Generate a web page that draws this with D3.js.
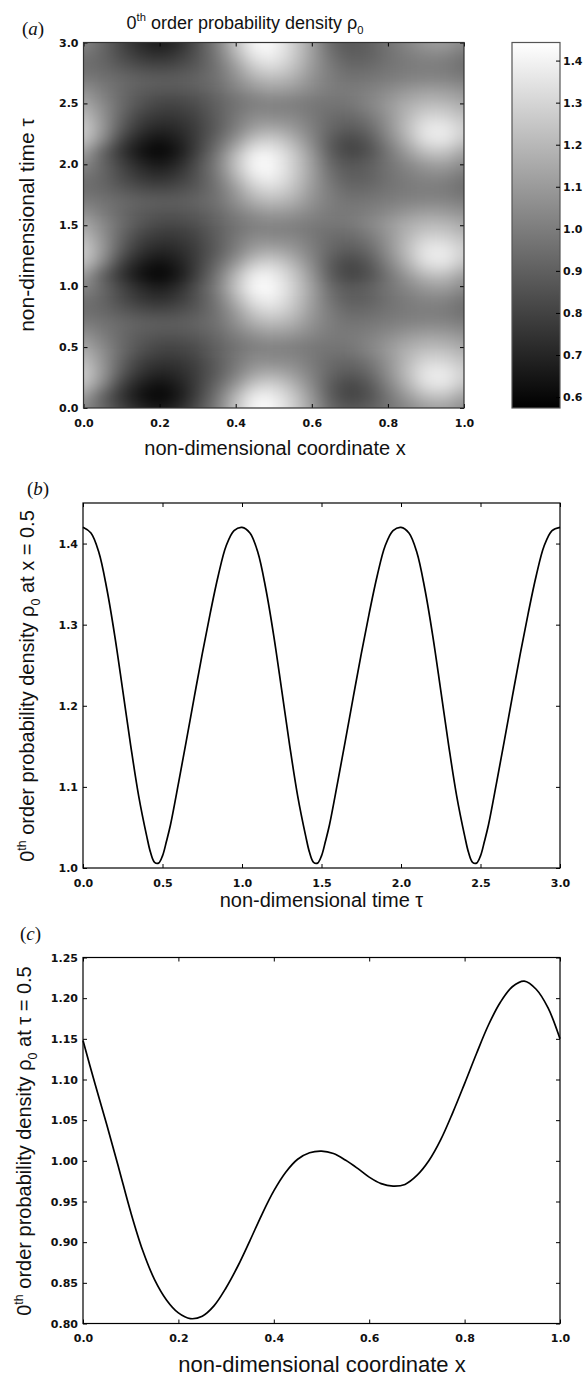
<!DOCTYPE html>
<html><head><meta charset="utf-8">
<script src="https://cdn.jsdelivr.net/npm/d3@7"></script>
<style>
body{margin:0;background:#fff;}
.lab{font-family:"Liberation Sans",Arial,sans-serif;fill:#111;}
.plab{font-family:"Liberation Serif","Times New Roman",serif;fill:#111;}
</style></head><body>
<svg id="fig" width="588" height="1380"></svg>
<script>
// ---------------- DATA ----------------
// (a) heat map grid: x columns, tau rows, rho values
const heatX = [0,0.05,0.1,0.15,0.2,0.25,0.3,0.35,0.4,0.45,0.5,0.55,0.6,0.65,0.7,0.75,0.8,0.85,0.9,0.95,1.0];
const heatTau = [0,0.1,0.2,0.3,0.4,0.5,0.6,0.7,0.8,0.9,1.0,1.1,1.2,1.3,1.4,1.5,1.6,1.7,1.8,1.9,2.0,2.1,2.2,2.3,2.4,2.5,2.6,2.7,2.8,2.9,3.0];
const heatRho = [
[1.04,0.93,0.81,0.71,0.66,0.72,0.85,1.00,1.24,1.43,1.42,1.29,1.12,0.93,0.87,0.90,0.97,1.03,1.10,1.12,1.04],
[1.12,0.90,0.74,0.63,0.58,0.65,0.80,0.97,1.20,1.40,1.39,1.27,1.09,0.88,0.80,0.84,0.97,1.10,1.22,1.24,1.12],
[1.25,1.05,0.80,0.68,0.63,0.68,0.79,0.92,1.08,1.26,1.29,1.19,1.04,0.88,0.81,0.87,1.02,1.18,1.35,1.37,1.25],
[1.28,1.10,0.88,0.75,0.70,0.72,0.79,0.88,1.00,1.12,1.15,1.10,1.01,0.92,0.88,0.93,1.06,1.22,1.37,1.38,1.28],
[1.22,1.08,0.91,0.80,0.76,0.76,0.81,0.89,0.98,1.05,1.04,1.04,0.99,0.94,0.93,0.98,1.08,1.20,1.30,1.30,1.22],
[1.15,1.05,0.94,0.86,0.81,0.81,0.84,0.90,0.96,1.00,1.01,1.00,0.98,0.97,0.98,1.03,1.10,1.17,1.21,1.21,1.15],
[1.08,1.00,0.93,0.88,0.86,0.86,0.88,0.93,1.00,1.06,1.10,1.08,1.03,0.99,0.99,1.01,1.05,1.10,1.13,1.12,1.08],
[1.00,0.97,0.94,0.91,0.90,0.90,0.92,0.96,1.06,1.17,1.21,1.17,1.07,1.00,0.97,0.98,1.00,1.02,1.03,1.03,1.00],
[0.95,0.93,0.88,0.84,0.82,0.84,0.88,0.96,1.10,1.27,1.32,1.24,1.10,0.99,0.93,0.94,0.97,0.99,1.00,0.99,0.95],
[0.97,0.92,0.83,0.76,0.73,0.77,0.86,0.98,1.18,1.37,1.40,1.28,1.12,0.96,0.89,0.90,0.96,1.00,1.03,1.03,0.97],
[1.04,0.93,0.81,0.71,0.66,0.72,0.85,1.00,1.24,1.43,1.42,1.29,1.12,0.93,0.87,0.90,0.97,1.03,1.10,1.12,1.04],
[1.12,0.90,0.74,0.63,0.58,0.65,0.80,0.97,1.20,1.40,1.39,1.27,1.09,0.88,0.80,0.84,0.97,1.10,1.22,1.24,1.12],
[1.25,1.05,0.80,0.68,0.63,0.68,0.79,0.92,1.08,1.26,1.29,1.19,1.04,0.88,0.81,0.87,1.02,1.18,1.35,1.37,1.25],
[1.28,1.10,0.88,0.75,0.70,0.72,0.79,0.88,1.00,1.12,1.15,1.10,1.01,0.92,0.88,0.93,1.06,1.22,1.37,1.38,1.28],
[1.22,1.08,0.91,0.80,0.76,0.76,0.81,0.89,0.98,1.05,1.04,1.04,0.99,0.94,0.93,0.98,1.08,1.20,1.30,1.30,1.22],
[1.15,1.05,0.94,0.86,0.81,0.81,0.84,0.90,0.96,1.00,1.01,1.00,0.98,0.97,0.98,1.03,1.10,1.17,1.21,1.21,1.15],
[1.08,1.00,0.93,0.88,0.86,0.86,0.88,0.93,1.00,1.06,1.10,1.08,1.03,0.99,0.99,1.01,1.05,1.10,1.13,1.12,1.08],
[1.00,0.97,0.94,0.91,0.90,0.90,0.92,0.96,1.06,1.17,1.21,1.17,1.07,1.00,0.97,0.98,1.00,1.02,1.03,1.03,1.00],
[0.95,0.93,0.88,0.84,0.82,0.84,0.88,0.96,1.10,1.27,1.32,1.24,1.10,0.99,0.93,0.94,0.97,0.99,1.00,0.99,0.95],
[0.97,0.92,0.83,0.76,0.73,0.77,0.86,0.98,1.18,1.37,1.40,1.28,1.12,0.96,0.89,0.90,0.96,1.00,1.03,1.03,0.97],
[1.04,0.93,0.81,0.71,0.66,0.72,0.85,1.00,1.24,1.43,1.42,1.29,1.12,0.93,0.87,0.90,0.97,1.03,1.10,1.12,1.04],
[1.12,0.90,0.74,0.63,0.58,0.65,0.80,0.97,1.20,1.40,1.39,1.27,1.09,0.88,0.80,0.84,0.97,1.10,1.22,1.24,1.12],
[1.25,1.05,0.80,0.68,0.63,0.68,0.79,0.92,1.08,1.26,1.29,1.19,1.04,0.88,0.81,0.87,1.02,1.18,1.35,1.37,1.25],
[1.28,1.10,0.88,0.75,0.70,0.72,0.79,0.88,1.00,1.12,1.15,1.10,1.01,0.92,0.88,0.93,1.06,1.22,1.37,1.38,1.28],
[1.22,1.08,0.91,0.80,0.76,0.76,0.81,0.89,0.98,1.05,1.04,1.04,0.99,0.94,0.93,0.98,1.08,1.20,1.30,1.30,1.22],
[1.15,1.05,0.94,0.86,0.81,0.81,0.84,0.90,0.96,1.00,1.01,1.00,0.98,0.97,0.98,1.03,1.10,1.17,1.21,1.21,1.15],
[1.08,1.00,0.93,0.88,0.86,0.86,0.88,0.93,1.00,1.06,1.10,1.08,1.03,0.99,0.99,1.01,1.05,1.10,1.13,1.12,1.08],
[1.00,0.97,0.94,0.91,0.90,0.90,0.92,0.96,1.06,1.17,1.21,1.17,1.07,1.00,0.97,0.98,1.00,1.02,1.03,1.03,1.00],
[0.95,0.93,0.88,0.84,0.82,0.84,0.88,0.96,1.10,1.27,1.32,1.24,1.10,0.99,0.93,0.94,0.97,0.99,1.00,0.99,0.95],
[0.97,0.92,0.83,0.76,0.73,0.77,0.86,0.98,1.18,1.37,1.40,1.28,1.12,0.96,0.89,0.90,0.96,1.00,1.03,1.03,0.97],
[1.04,0.93,0.81,0.71,0.66,0.72,0.85,1.00,1.24,1.43,1.42,1.29,1.12,0.93,0.87,0.90,0.97,1.03,1.10,1.12,1.04]
];
const colorbarRange = [0.574, 1.443];
const colorbarTicks = [0.6,0.7,0.8,0.9,1.0,1.1,1.2,1.3,1.4];
const heatXTicks = [0.0,0.2,0.4,0.6,0.8,1.0];
const heatYTicks = [0.0,0.5,1.0,1.5,2.0,2.5,3.0];

// (b) rho0 at x = 0.5 versus tau
const tauB = [0,0.05,0.1,0.15,0.2,0.25,0.3,0.35,0.4,0.425,0.45,0.475,0.5,0.525,0.55,0.6,0.65,0.7,0.75,0.8,0.85,0.9,0.95,
  1.0,1.05,1.1,1.15,1.2,1.25,1.3,1.35,1.4,1.425,1.45,1.475,1.5,1.525,1.55,1.6,1.65,1.7,1.75,1.8,1.85,1.9,1.95,
  2.0,2.05,2.1,2.15,2.2,2.25,2.3,2.35,2.4,2.425,2.45,2.475,2.5,2.525,2.55,2.6,2.65,2.7,2.75,2.8,2.85,2.9,2.95,3.0];
const rhoB = [1.420,1.413,1.389,1.344,1.286,1.219,1.151,1.089,1.040,1.019,1.007,1.006,1.015,1.033,1.053,1.104,1.157,1.211,1.264,1.314,1.360,1.397,1.416,
  1.420,1.413,1.389,1.344,1.286,1.219,1.151,1.089,1.040,1.019,1.007,1.006,1.015,1.033,1.053,1.104,1.157,1.211,1.264,1.314,1.360,1.397,1.416,
  1.420,1.413,1.389,1.344,1.286,1.219,1.151,1.089,1.040,1.019,1.007,1.006,1.015,1.033,1.053,1.104,1.157,1.211,1.264,1.314,1.360,1.397,1.416,1.420];
const bXTicks = [0.0,0.5,1.0,1.5,2.0,2.5,3.0];
const bYTicks = [1.0,1.1,1.2,1.3,1.4];
const bYDomain = [1.0,1.45];

// (c) rho0 at tau = 0.5 versus x
const xC = [0,0.025,0.05,0.075,0.1,0.125,0.15,0.175,0.2,0.225,0.25,0.275,0.3,0.325,0.35,0.375,0.4,0.425,0.45,0.475,
  0.5,0.525,0.55,0.575,0.6,0.625,0.65,0.675,0.7,0.725,0.75,0.775,0.8,0.825,0.85,0.875,0.9,0.925,0.95,0.975,1.0];
const rhoC = [1.148,1.095,1.044,0.991,0.937,0.890,0.854,0.829,0.813,0.806,0.809,0.822,0.844,0.871,0.902,0.934,0.963,0.986,1.002,1.010,
  1.012,1.009,1.001,0.991,0.980,0.972,0.969,0.971,0.982,1.000,1.026,1.059,1.095,1.132,1.167,1.195,1.214,1.221,1.211,1.188,1.150];
const cXTicks = [0.0,0.2,0.4,0.6,0.8,1.0];
const cYTicks = [0.80,0.85,0.90,0.95,1.00,1.05,1.10,1.15,1.20,1.25];
const cYDomain = [0.80,1.25];

// ---------------- DRAWING ----------------
const svg = d3.select("#fig");
const defs = svg.append("defs");

function richText(x, y, rot, size, parts, anchor) {
  const t = svg.append("text").attr("class","lab").attr("font-size", size)
    .attr("text-anchor", anchor || "middle")
    .attr("transform", `translate(${x},${y})` + (rot ? " rotate(-90)" : ""));
  let cur = 0;
  parts.forEach(p => {
    const shift = p.s === "sup" ? -0.42*size : (p.s === "sub" ? 0.28*size : 0);
    const ts = t.append("tspan").text(p.t).attr("dy", (shift - cur).toFixed(2));
    if (p.s) ts.attr("font-size", (size*0.62).toFixed(1));
    cur = shift;
  });
  return t;
}
function panelLabel(x, y, letter) {
  const t = svg.append("text").attr("class","plab").attr("font-size",19).attr("x",x).attr("y",y);
  t.append("tspan").text("(");
  t.append("tspan").attr("font-style","italic").text(letter);
  t.append("tspan").text(")");
}
function styleTicks(g) {
  g.select(".domain").remove();
  g.selectAll("line").attr("stroke","#000").attr("stroke-width",1);
  g.selectAll("text").attr("font-family","'DejaVu Sans',sans-serif").attr("font-weight","bold")
    .attr("font-size",11).attr("fill","#111");
}
function frameAxes(x, y, xt, yt, fx, fy, frameColor) {
  const [x0, x1] = x.range(), [yb, yt0] = y.range();
  svg.append("g").attr("transform",`translate(0,${yb})`)
    .call(d3.axisBottom(x).tickValues(xt).tickFormat(fx).tickSize(-4).tickPadding(11)).call(styleTicks);
  svg.append("g").attr("transform",`translate(0,${yt0})`)
    .call(d3.axisTop(x).tickValues(xt).tickFormat("").tickSize(-4)).call(styleTicks);
  svg.append("g").attr("transform",`translate(${x0},0)`)
    .call(d3.axisLeft(y).tickValues(yt).tickFormat(fy).tickSize(-4).tickPadding(5)).call(styleTicks);
  svg.append("g").attr("transform",`translate(${x1},0)`)
    .call(d3.axisRight(y).tickValues(yt).tickFormat("").tickSize(-4)).call(styleTicks);
  svg.append("rect").attr("x",x0).attr("y",yt0).attr("width",x1-x0).attr("height",yb-yt0)
    .attr("fill","none").attr("stroke",frameColor || "#000").attr("stroke-width",1.2);
}

// ---- panel (a) ----
const hx = d3.scaleLinear().domain([0,1]).range([83.5,464]);
const hy = d3.scaleLinear().domain([0,3]).range([408,42.5]);
const gray = d3.scaleLinear().domain(colorbarRange).range(["#000000","#ffffff"]).clamp(true);

defs.append("clipPath").attr("id","hclip").append("rect")
  .attr("x",hx(0)).attr("y",hy(3)).attr("width",hx(1)-hx(0)).attr("height",hy(0)-hy(3));
const filt = defs.append("filter").attr("id","hblur").attr("filterUnits","userSpaceOnUse")
  .attr("x",0).attr("y",0).attr("width",588).attr("height",470)
  .attr("color-interpolation-filters","sRGB");
filt.append("feGaussianBlur").attr("stdDeviation","9 6.5");

const cells = [];
heatRho.forEach((row, i) => row.forEach((v, j) => cells.push({i, j, v})));
const dxh = 0.05, dth = 0.1, ext = 30;
svg.append("g").attr("clip-path","url(#hclip)")
  .append("g").attr("filter","url(#hblur)")
  .selectAll("rect").data(cells).join("rect")
  .attr("x", d => hx(heatX[d.j] - dxh/2) - (d.j === 0 ? ext : 0))
  .attr("width", d => hx(heatX[d.j] + dxh/2) - hx(heatX[d.j] - dxh/2) + 0.6
      + (d.j === 0 ? ext : 0) + (d.j === heatX.length-1 ? ext : 0))
  .attr("y", d => hy(heatTau[d.i] + dth/2) - (d.i === heatTau.length-1 ? ext : 0))
  .attr("height", d => hy(heatTau[d.i] - dth/2) - hy(heatTau[d.i] + dth/2) + 0.6
      + (d.i === 0 ? ext : 0) + (d.i === heatTau.length-1 ? ext : 0))
  .attr("fill", d => gray(d.v));

frameAxes(hx, hy, heatXTicks, heatYTicks, d3.format(".1f"), d3.format(".1f"), "#333");

// colorbar
const cb = d3.scaleLinear().domain(colorbarRange).range([408,42.5]);
const grad = defs.append("linearGradient").attr("id","cbgrad").attr("x1",0).attr("y1",1).attr("x2",0).attr("y2",0);
grad.append("stop").attr("offset",0).attr("stop-color",gray(colorbarRange[0]));
grad.append("stop").attr("offset",1).attr("stop-color",gray(colorbarRange[1]));
svg.append("rect").attr("x",512).attr("y",cb(colorbarRange[1])).attr("width",48)
  .attr("height",cb(colorbarRange[0]) - cb(colorbarRange[1])).attr("fill","url(#cbgrad)")
  .attr("stroke","#555").attr("stroke-width",1.2);
svg.append("g").attr("transform","translate(560,0)")
  .call(d3.axisRight(cb).tickValues(colorbarTicks).tickFormat(d3.format(".1f")).tickSize(-4).tickPadding(3))
  .call(styleTicks);

richText(245, 29, false, 18, [{t:"0"},{t:"th",s:"sup"},{t:" order probability density ρ"},{t:"0",s:"sub"}]);
richText(34, 225, true, 21, [{t:"non-dimensional time τ"}]);
richText(275, 455, false, 20, [{t:"non-dimensional coordinate x"}]);
panelLabel(22, 35, "a");

// ---- panel (b) ----
const bx = d3.scaleLinear().domain([0,3]).range([83,560]);
const by = d3.scaleLinear().domain(bYDomain).range([868,503]);
frameAxes(bx, by, bXTicks, bYTicks, d3.format(".1f"), d3.format(".1f"));
svg.append("path").datum(tauB.map((t,i) => [t, rhoB[i]]))
  .attr("fill","none").attr("stroke","#000").attr("stroke-width",1.7)
  .attr("d", d3.line().x(d => bx(d[0])).y(d => by(d[1])).curve(d3.curveCatmullRom.alpha(0.5)));
richText(34, 686, true, 20, [{t:"0"},{t:"th",s:"sup"},{t:" order probability density ρ"},{t:"0",s:"sub"},{t:" at x = 0.5"}]);
richText(321.5, 907, false, 20, [{t:"non-dimensional time τ"}]);
panelLabel(27, 495, "b");

// ---- panel (c) ----
const cx = d3.scaleLinear().domain([0,1]).range([83,560]);
const cy = d3.scaleLinear().domain(cYDomain).range([1323.5,957.5]);
frameAxes(cx, cy, cXTicks, cYTicks, d3.format(".1f"), d3.format(".2f"));
svg.append("path").datum(xC.map((t,i) => [t, rhoC[i]]))
  .attr("fill","none").attr("stroke","#000").attr("stroke-width",1.7)
  .attr("d", d3.line().x(d => cx(d[0])).y(d => cy(d[1])).curve(d3.curveCatmullRom.alpha(0.5)));
richText(31, 1141, true, 20, [{t:"0"},{t:"th",s:"sup"},{t:" order probability density ρ"},{t:"0",s:"sub"},{t:" at τ = 0.5"}]);
richText(322, 1372, false, 22, [{t:"non-dimensional coordinate x"}]);
panelLabel(20, 940, "c");
</script></body></html>
